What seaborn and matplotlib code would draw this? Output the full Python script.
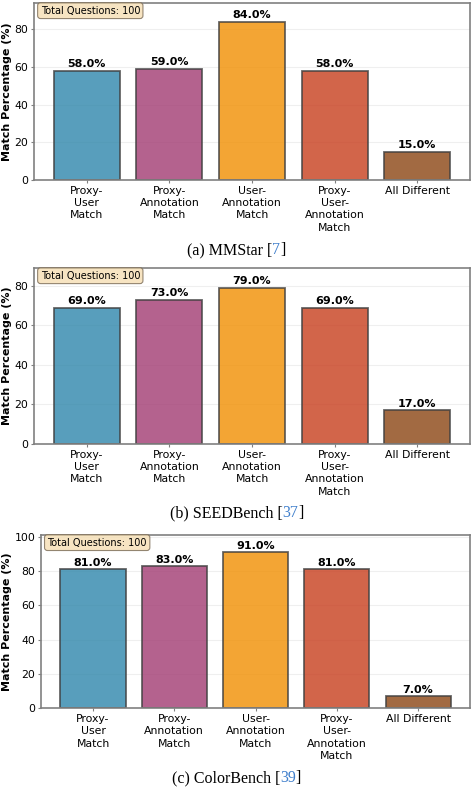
import numpy as np
import pandas as pd
import seaborn as sns
import matplotlib.pyplot as plt

# %%
categories = ['Proxy-\nUser\nMatch', 'Proxy-\nAnnotation\nMatch', 'User-\nAnnotation\nMatch',
              'Proxy-\nUser-\nAnnotation\nMatch', 'All Different']
mmstar = [58.0, 59.0, 84.0, 58.0, 15.0]
seedbench = [69.0, 73.0, 79.0, 69.0, 17.0]
colorbench = [81.0, 83.0, 91.0, 81.0, 7.0]
total_questions = [100, 100, 100]
captions = [('(a) MMStar', '7'), ('(b) SEEDBench', '37'), ('(c) ColorBench', '39')]

bar_colors = ['#2E86AB', '#A23B72', '#F18F01', '#C73E1D', '#8B4513']

# %%
sns.set_style('whitegrid')
plt.rcParams.update({
    'axes.edgecolor': '0.5',
    'axes.linewidth': 1.2,
    'xtick.bottom': True,
    'ytick.left': True,
    'xtick.color': '0.5',
    'ytick.color': '0.5',
    'xtick.labelcolor': 'black',
    'ytick.labelcolor': 'black',
    'xtick.major.size': 2.5,
    'ytick.major.size': 2.5,
    'grid.color': '#ebebeb',
    'text.color': 'black',
    'axes.labelcolor': 'black',
})
plt.rcParams['font.family'] = ['DejaVu Sans']

fig = plt.figure(figsize=(4.73, 7.87), dpi=100)

# posiciones de los ejes en fraccion de figura
positions = [
    [34 / 473, 0.7713, 436 / 473, 0.2249],
    [34 / 473, 0.4358, 436 / 473, 0.2236],
    [41 / 473, 0.1000, 429 / 473, 0.2202],
]
caption_y = [1 - 250 / 787, 1 - 513 / 787, 1 - 778 / 787]

palette = dict(zip(categories, bar_colors))

for pos, vals, tq in zip(positions, [mmstar, seedbench, colorbench], total_questions):
    ax = fig.add_axes(pos)
    df = pd.DataFrame({'cat': categories, 'val': vals})
    sns.barplot(data=df, x='cat', y='val', hue='cat', palette=palette, legend=False,
                saturation=1, width=0.8, edgecolor='0.25', linewidth=1.3, alpha=0.8, ax=ax)
    ax.set_axisbelow(True)
    ax.grid(axis='x', visible=False)
    ax.grid(axis='y', alpha=0.8)
    ax.set_xlim(-0.64, 4.64)
    ax.set_ylim(0, max(vals) + 10)
    ax.set_xlabel('')
    ax.set_ylabel('Match Percentage (%)', fontsize=8, fontweight='bold', labelpad=2)
    ax.tick_params(axis='both', labelsize=7.8, pad=1.5)
    for lbl in ax.get_xticklabels():
        lbl.set_linespacing(1.3)
    for i, v in enumerate(vals):
        ax.text(i, v + 0.8, f'{v:.1f}%', ha='center', va='bottom', fontsize=8, fontweight='bold')
    ax.text(0.015, 0.985, f'Total Questions: {tq}', transform=ax.transAxes, fontsize=7,
            va='top', ha='left',
            bbox=dict(boxstyle='round,pad=0.3', facecolor='wheat', alpha=0.8,
                      edgecolor='#7a6a55', linewidth=0.8))

# captions con la cita en azul
for y, (pre, ref) in zip(caption_y, captions):
    parts = [(pre + ' [', 'black'), (ref, '#3F7FCC'), (']', 'black')]
    texts = [fig.text(0, y, s, color=c, fontsize=11.5, family='Liberation Serif', va='center')
             for s, c in parts]
    fig.canvas.draw()
    renderer = fig.canvas.get_renderer()
    widths = [t.get_window_extent(renderer).width for t in texts]
    x = (fig.bbox.width - sum(widths)) / 2
    for t, w in zip(texts, widths):
        t.set_x(x / fig.bbox.width)
        x += w

fig.savefig('out.png', dpi=100)
